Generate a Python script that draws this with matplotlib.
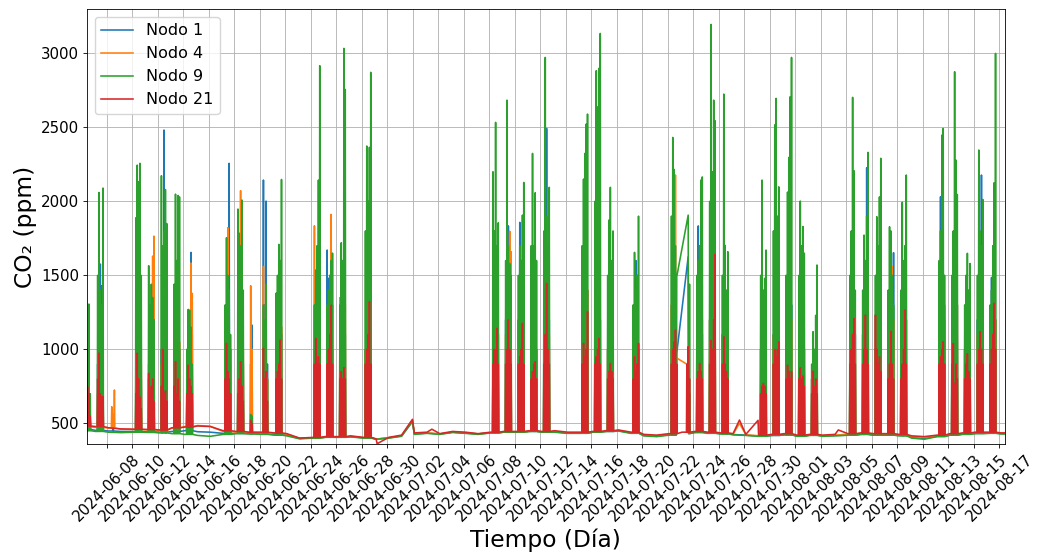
import numpy as np
import pandas as pd
import matplotlib
matplotlib.use("Agg")
import matplotlib.pyplot as plt

nan = np.nan

# ---------------- data ----------------
t_start = "2024-06-06 10:20"
t_end = "2024-08-17 10:50"
calendar_days = pd.date_range("2024-06-06", "2024-08-17", freq="D")

# nightly baseline per calendar day (ppm)
base_n1 = [459, 452, 448, 445,
           445, 442, 440, 445, 450, 443, 440,
           432, 432, 430, 428, 425, 420, 398,
           402, 406, 406, 410, 402, 393, 402,
           415, 428, 434, 428, 440, 434, 428,
           436, 440, 440, 445, 440, 442, 434,
           434, 440, 445, 450, 434, 418, 412,
           424, 432, 438, 434, 430, 424, 420,
           414, 418, 422, 414, 420, 415, 418,
           420, 425, 420, 420, 418, 405, 398,
           412, 420, 428, 432, 434, 430]
base_n4 = [475, 472, 468, 460,
           458, 455, 452, 468, 478, 485, 480,
           445, 440, 438, 436, 432, 426, 398,
           402, 406, 408, 412, 402, 393, 402,
           416, 430, 436, 428, 440, 436, 428,
           436, 442, 442, 446, 442, 446, 436,
           436, 442, 446, 452, 436, 420, 416,
           426, 436, 442, 436, 432, 426, 422,
           416, 422, 426, 416, 422, 416, 420,
           426, 430, 426, 426, 422, 410, 405,
           416, 426, 430, 436, 436, 432]
base_n9 = [450, 445, 440, 437,
           440, 438, 435, 430, 425, 418, 412,
           425, 430, 428, 425, 420, 415, 395,
           400, 405, 405, 408, 400, 392, 400,
           412, 425, 432, 425, 438, 432, 425,
           435, 440, 440, 445, 440, 440, 432,
           432, 440, 445, 448, 432, 415, 410,
           420, 430, 438, 432, 428, 422, 418,
           412, 418, 422, 412, 418, 412, 415,
           420, 425, 420, 420, 415, 400, 392,
           410, 420, 425, 430, 432, 428]
base_n21 = [482, 478, 470, 462,
            460, 458, 455, 470, 475, 482, 478,
            450, 445, 440, 440, 435, 430, 400,
            405, 410, 410, 415, 405, 395, 405,
            420, 435, 440, 430, 445, 440, 430,
            440, 445, 445, 450, 445, 450, 440,
            440, 445, 450, 455, 440, 425, 420,
            430, 440, 445, 440, 435, 430, 425,
            420, 425, 430, 420, 425, 420, 425,
            430, 435, 430, 430, 425, 415, 410,
            420, 430, 435, 440, 440, 435]

# days with occupancy peaks and the hours of the peaks
act_days = ["2024-06-06", "2024-06-07", "2024-06-08", "2024-06-10", "2024-06-11",
            "2024-06-12", "2024-06-13", "2024-06-14", "2024-06-17", "2024-06-18",
            "2024-06-19", "2024-06-20", "2024-06-21", "2024-06-24", "2024-06-25",
            "2024-06-26", "2024-06-28", "2024-07-08", "2024-07-09", "2024-07-10",
            "2024-07-11", "2024-07-12", "2024-07-15", "2024-07-16", "2024-07-17",
            "2024-07-19", "2024-07-22", "2024-07-23", "2024-07-24", "2024-07-25",
            "2024-07-26", "2024-07-29", "2024-07-30", "2024-07-31", "2024-08-01",
            "2024-08-02", "2024-08-05", "2024-08-06", "2024-08-07", "2024-08-08",
            "2024-08-09", "2024-08-12", "2024-08-13", "2024-08-14", "2024-08-15",
            "2024-08-16"]
peak_hours = [7, 9.5, 12, 14.5, 17]

peaks_n1 = [[nan, nan, 650, 600, 520], [900, 1200, 1576, 1430, 1000], [nan, nan, 543, nan, nan],
            [900, 1300, 1200, 1100, 800], [800, 900, 1000, 1100, 1000], [1000, 1200, 2482, 1300, 1000],
            [900, 1100, 1000, 1200, 1000], [800, 900, 1000, 1655, 1100], [800, 1000, 1200, 2257, 1000],
            [900, 1000, 1100, 1200, 900], [900, 1164, nan, nan, nan], [2144, 1300, 2002, 900, nan],
            [900, 1000, 1100, 1200, 1100], [1000, 1100, 1200, 1300, 1400], [1671, 1480, 1200, 1100, 1000],
            [1000, 1100, 1100, 1200, 1100], [1000, 1211, 1100, 1150, 1000], [1000, 1100, 1200, 1300, 1100],
            [1200, 1400, 1834, 1300, 1100], [1200, 1858, 1600, 1300, 1100], [1000, 1200, 1100, 1300, 1000],
            [1200, 1500, 2493, 1300, 1200], [1100, 1300, 1400, 1500, 1400], [1100, 1300, 1520, 1400, 1200],
            [1000, 1100, 1200, 1100, 1000], [1100, 1300, 1600, 1200, 1000], [1000, 1100, 1200, 900, 975],
            [nan, nan, nan, 1626, 700], [1300, 1834, 1400, 1200, 1100], [1200, 1400, 1500, 1600, 1500],
            [1100, 1200, 1300, 1200, 1100], [1000, 1100, 1100, 1200, 1100], [1100, 1300, 1400, 1300, 1200],
            [800, 1000, 1630, 1200, 1300], [1000, 1100, 1200, 1100, 1000], [800, 900, 950, 1000, 950],
            [1000, 1200, 1480, 1300, 1100], [1100, 1300, 1500, 2227, 1400], [1000, 1200, 1300, 1400, 1300],
            [1000, 1100, 1200, 1300, 1653], [1000, 1100, 1200, 1300, 1200], [1300, 2031, 1500, 1400, 1200],
            [1100, 1200, 1300, 1400, 1300], [1000, 1100, 1200, 1100, 1000], [1200, 1300, 1500, 2178, 1400],
            [1200, 1486, 1300, 1400, 1200]]
peaks_n4 = [[nan, nan, 620, 580, 520], [700, 900, 850, 950, 800], [nan, 612, 560, 725, nan],
            [1000, 1400, 1300, 1200, 900], [900, 1000, 1200, 1630, 1765], [900, 1000, 1200, 1100, 950],
            [950, 1150, 1050, 1250, 1050], [850, 1000, 1100, 1583, 1378], [900, 1300, 1822, 1200, 900],
            [1000, 1200, 2072, 1300, 1000], [1430, 1000, nan, nan, nan], [1560, 1100, 1200, 800, nan],
            [950, 1050, 1150, 1250, 1150], [1835, 1200, 1300, 1400, 1500], [1200, 1300, 1500, 1912, 1300],
            [1349, 1200, 1300, 1640, 1300], [1000, 1100, 1150, 1200, 1050], [1000, 1100, 1200, 1300, 1100],
            [1100, 1300, 1500, 1799, 1660], [1100, 1200, 1300, 1400, 1200], [1000, 1200, 1100, 1300, 1000],
            [1100, 1300, 1400, 1300, 1100], [1100, 1300, 1400, 1500, 1400], [1100, 1200, 1400, 1300, 1200],
            [1000, 1100, 1200, 1100, 1000], [1000, 1100, 1200, 1100, 1000], [1300, 1500, 1800, 2178, 941],
            [nan, nan, nan, 894, 700], [1000, 1100, 1200, 1300, 1200], [1200, 1400, 1500, 1600, 1500],
            [1100, 1200, 1300, 1200, 1100], [1000, 1100, 1100, 1200, 1100], [1100, 1300, 1400, 1300, 1200],
            [900, 1200, 1500, 1300, 1200], [1000, 1100, 1200, 1100, 1000], [800, 900, 950, 1000, 950],
            [1000, 1100, 1300, 1200, 1000], [1000, 1100, 1200, 1300, 1200], [1000, 1200, 1300, 1400, 1300],
            [1000, 1100, 1200, 1560, 1200], [1000, 1100, 1200, 1300, 1200], [1100, 1200, 1300, 1400, 1300],
            [1100, 1200, 1300, 1400, 1300], [1000, 1100, 1200, 1100, 1000], [1100, 1200, 1300, 1400, 1300],
            [1000, 1100, 1200, 1300, 1200]]
peaks_n9 = [[nan, nan, 1000, 1306, 700], [1500, 2060, 1400, 1300, 2090], [nan, nan, nan, nan, nan],
            [1889, 2245, 2133, 2257, 1500], [1565, 1300, 1440, 1350, 1200], [2173, 1700, 1800, 2080, 1850],
            [1440, 2049, 1600, 2040, 2030], [1000, 1270, 1265, 1150, 900], [1300, 1754, 1500, 1400, 1100],
            [1948, 1785, 1700, 2009, 1400], [560, 550, nan, nan, nan], [1300, 1200, 1441, 800, nan],
            [1380, 1500, 1709, 1600, 2148], [1300, 1536, 1700, 2144, 2917], [1300, 1400, 1500, 1600, 1650],
            [1300, 1720, 1600, 3034, 2757], [1800, 2374, 2000, 2365, 2872], [2200, 1800, 2534, 1700, 1855],
            [1600, 2684, 1700, 1580, 1500], [1500, 1700, 1600, 1907, 2128], [1700, 2324, 1700, 2058, 1600],
            [1800, 2973, 1900, 1700, 2095], [1700, 2151, 2324, 2522, 2590], [2000, 2883, 2638, 2899, 3135],
            [1500, 1874, 2095, 1600, 1800], [1300, 1655, 1400, 1500, 1900], [1900, 2432, 2216, 1700, 1491],
            [nan, nan, nan, 1907, 1440], [1500, 1600, 1700, 2144, 2165], [2000, 3196, 2200, 2684, 2545],
            [1500, 2725, 1703, 1400, 1660], [1500, 2144, 1400, 1480, 1671], [1800, 2517, 2696, 1900, 2098],
            [1500, 2063, 2297, 2707, 2973], [1500, 2002, 1700, 1830, 1650], [900, 1119, 1000, 1230, 1570],
            [1500, 1800, 2703, 2207, 1400], [1400, 1772, 1600, 1900, 2331], [1500, 1896, 1700, 2030, 2291],
            [1400, 1828, 1800, 1500, 1300], [1400, 1994, 1600, 1700, 2178], [1600, 1800, 2448, 2493, 1500],
            [1500, 1800, 2876, 2279, 2047], [1300, 1500, 1649, 1400, 1580], [1500, 2347, 1800, 1700, 2013],
            [1300, 1400, 1700, 2126, 3000]]
peaks_n21 = [[nan, nan, 747, 700, 550], [800, 975, 700, 678, 680], [nan, nan, nan, nan, nan],
             [700, 975, 800, 678, 600], [838, 700, 750, 800, 650], [750, 1000, 700, 720, 650],
             [750, 916, 700, 800, 650], [700, 894, 800, 750, 700], [800, 1040, 850, 800, 700],
             [700, 800, 916, 750, 650], [520, 500, nan, nan, nan], [1007, 800, 850, 650, nan],
             [800, 850, 900, 1063, 800], [900, 1074, 900, 950, 900], [900, 1000, 1100, 1299, 900],
             [800, 850, 800, 876, 800], [900, 1000, 1100, 1322, 900], [900, 1000, 995, 1142, 900],
             [900, 1000, 1199, 1000, 900], [900, 950, 1000, 1176, 900], [800, 850, 900, 916, 800],
             [900, 1100, 1446, 1000, 900], [900, 1040, 950, 1000, 1254], [900, 950, 1000, 1074, 900],
             [800, 850, 905, 850, 800], [800, 950, 850, 900, 1040], [900, 1000, 1050, 1130, 900],
             [nan, nan, 900, 1018, 800], [800, 850, 905, 850, 800], [900, 1060, 1000, 1200, 1642],
             [900, 1085, 900, 850, 800], [700, 750, 770, 750, 700], [900, 1000, 950, 1000, 1051],
             [800, 894, 850, 800, 850], [800, 876, 800, 820, 750], [700, 853, 750, 800, 700],
             [900, 1000, 1100, 1209, 900], [900, 1000, 1232, 1000, 900], [1232, 1000, 900, 950, 850],
             [800, 900, 1123, 900, 800], [800, 900, 1000, 1266, 900], [900, 950, 1000, 1051, 900],
             [900, 1040, 770, 900, 800], [800, 900, 970, 850, 800], [900, 1000, 1119, 1000, 900],
             [900, 1000, 1100, 1311, 1000]]

# isolated readings outside the occupancy peaks
extra_n1 = [("2024-07-01 23:30", 510)]
extra_n4 = [("2024-07-01 23:30", 520), ("2024-07-27 15:00", 500)]
extra_n9 = [("2024-07-01 23:30", 515)]
extra_n21 = [("2024-06-29 05:00", 362), ("2024-07-01 23:30", 527), ("2024-07-03 12:00", 460),
             ("2024-07-27 15:00", 522), ("2024-07-29 02:00", 520), ("2024-08-04 09:00", 455)]

# interval without readings (line drawn straight across)
gap_start = "2024-07-22 17:00"
gap_end = "2024-07-23 14:30"

node_names = ["Nodo 1", "Nodo 4", "Nodo 9", "Nodo 21"]
node_colors = ["#1f77b4", "#ff7f0e", "#2ca02c", "#d62728"]
node_has_gap = [True, True, True, False]


def build_series(base, peaks, extra, has_gap):
    t0, t1 = pd.Timestamp(t_start), pd.Timestamp(t_end)
    pts = {}
    bmap = dict(zip(calendar_days, base))
    for d, b in zip(calendar_days, base):
        pts[d + pd.Timedelta(hours=3)] = b
    for dstr, vals in zip(act_days, peaks):
        d = pd.Timestamp(dstr)
        b = bmap[d]
        for h, v in zip(peak_hours, vals):
            if np.isnan(v):
                continue
            t = d + pd.Timedelta(hours=h)
            pts[t - pd.Timedelta(minutes=45)] = b
            pts[t] = v
            pts[t + pd.Timedelta(minutes=45)] = b
    for ts, v in extra:
        pts[pd.Timestamp(ts)] = v
    s = pd.Series(pts).sort_index()
    s = s[(s.index > t0) & (s.index < t1)]
    s[t0] = base[0]
    s[t1] = base[-1]
    s = s.sort_index()
    if has_gap:
        g0, g1 = pd.Timestamp(gap_start), pd.Timestamp(gap_end)
        s = s[~((s.index > g0) & (s.index < g1))]
    return s


plt.rcParams.update({
    "lines.linewidth": 1.15,
    "grid.linewidth": 0.6,
    "axes.linewidth": 0.6,
    "xtick.major.size": 2.8, "ytick.major.size": 2.8,
    "xtick.major.width": 0.6, "ytick.major.width": 0.6,
    "xtick.major.pad": 2.7, "ytick.major.pad": 2.7,
    "legend.fontsize": 11.5,
})

all_base = [base_n1, base_n4, base_n9, base_n21]
all_peaks = [peaks_n1, peaks_n4, peaks_n9, peaks_n21]
all_extra = [extra_n1, extra_n4, extra_n9, extra_n21]

fig = plt.figure(figsize=(10.42, 5.6), dpi=100)
ax = fig.add_axes([0.0832, 0.2066, 0.9645 - 0.0832, 0.9839 - 0.2066])

for name, col, b, p, e, g in zip(node_names, node_colors, all_base, all_peaks, all_extra, node_has_gap):
    s = build_series(b, p, e, g)
    ax.plot(s.index, s.values, color=col, label=name)

ax.set_xlim(pd.Timestamp(t_start), pd.Timestamp(t_end))
ax.set_ylim(358, 3300)
ticks = pd.date_range("2024-06-08", "2024-08-17", freq="2D")
ax.set_xticks(ticks)
ax.set_xticklabels([t.strftime("%Y-%m-%d") for t in ticks], rotation=45, fontsize=10.8)
ax.set_yticks([500, 1000, 1500, 2000, 2500, 3000])
ax.tick_params(axis="y", labelsize=10.8)
ax.grid(True)
ax.set_xlabel("Tiempo (Día)", fontsize=16.8, labelpad=3)
ax.set_ylabel("CO₂ (ppm)", fontsize=16.8, labelpad=3)
ax.legend(loc="upper left")

fig.savefig("out.png", dpi=100)
